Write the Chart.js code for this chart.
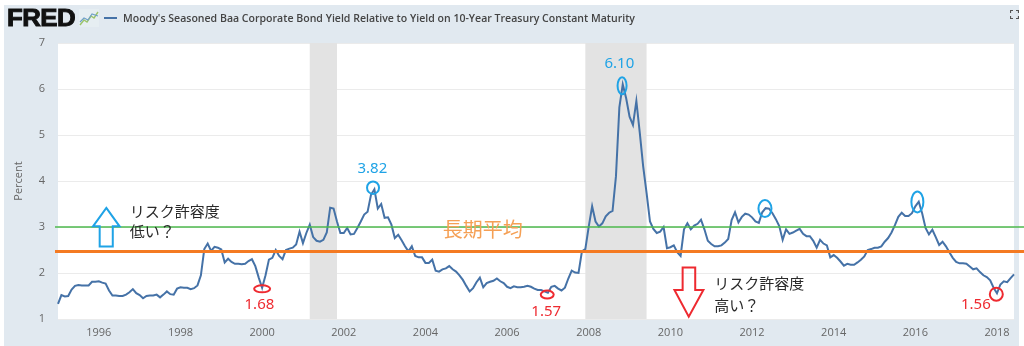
<!DOCTYPE html>
<html>
<head>
<meta charset="utf-8">
<script src="https://cdn.jsdelivr.net/npm/chart.js"></script>
<style>
  html, body { margin: 0; padding: 0; background: #ffffff; width: 1024px; height: 346px; overflow: hidden; }
  #frame { position: absolute; left: 4px; top: 5px; width: 1015px; height: 341px; background: #e1e9f0; }
  #cv { position: absolute; left: 0; top: 0; z-index: 1; }
  .hdr { position: absolute; z-index: 2; white-space: nowrap; }
  #logo { left: 7px; top: 5px; font-family: "Liberation Sans", Arial, sans-serif; font-weight: 700; font-size: 23px; color: #111; -webkit-text-stroke: 0.9px #111; letter-spacing: -0.5px; transform-origin: 0 0; line-height: 26px; }
  #title { left: 123px; top: 10px; font-family: "Open Sans", "Noto Sans", sans-serif; font-weight: 600; font-size: 11px; line-height: 15px; color: #444; transform-origin: 0 0; }
  #legline { left: 104px; top: 17px; width: 13px; height: 2px; background: #4572a7; }
</style>
</head>
<body>
<div id="frame"></div>
<canvas id="cv" width="1024" height="346"></canvas>
<div class="hdr" id="logo">FRED</div>
<svg class="hdr" style="left:79px;top:9px" width="20" height="18" viewBox="0 0 20 18">
  <rect x="0" y="0" width="20" height="18" fill="#e6eef2"/>
  <polyline points="1,16 5,11 8,13 12,7 15,9 19,3" fill="none" stroke="#9cc46a" stroke-width="1.4"/>
  <polyline points="1,13 5,9 9,11 13,5 19,7" fill="none" stroke="#6fa0c8" stroke-width="1.1"/>
</svg>
<div class="hdr" id="legline"></div>
<div class="hdr" id="title">Moody's Seasoned Baa Corporate Bond Yield Relative to Yield on 10-Year Treasury Constant Maturity</div>
<svg class="hdr" style="left:1010px;top:10px" width="9" height="9" viewBox="0 0 9 9">
  <path d="M0.5,3 V0.5 H3 M6,0.5 H8.5 V3 M8.5,6 V8.5 H6 M3,8.5 H0.5 V6" fill="none" stroke="#555" stroke-width="1.2"/>
</svg>
<script>
// ---- data (monthly, percent) ----
const values1995 = [1.33, 1.52, 1.49, 1.50, 1.64, 1.72, 1.74, 1.73, 1.73, 1.73, 1.81, 1.81];
const values1996 = [1.82, 1.79, 1.77, 1.62, 1.51, 1.51, 1.50, 1.50, 1.53, 1.58, 1.65, 1.56];
const values1997 = [1.52, 1.45, 1.50, 1.51, 1.51, 1.53, 1.47, 1.53, 1.60, 1.54, 1.53, 1.66];
const values1998 = [1.69, 1.68, 1.68, 1.65, 1.67, 1.73, 1.95, 2.52, 2.64, 2.48, 2.57, 2.55];
const values1999 = [2.51, 2.23, 2.31, 2.24, 2.20, 2.20, 2.19, 2.20, 2.26, 2.30, 2.15, 1.90];
const values2000 = [1.68, 1.95, 2.29, 2.33, 2.50, 2.37, 2.30, 2.50, 2.53, 2.55, 2.62, 2.90];
const values2001 = [2.65, 2.87, 3.05, 2.78, 2.70, 2.68, 2.72, 2.88, 3.42, 3.40, 3.12, 2.87];
const values2002 = [2.87, 2.98, 2.84, 2.85, 2.98, 3.12, 3.27, 3.33, 3.70, 3.82, 3.40, 3.50];
const values2003 = [3.20, 3.21, 3.05, 2.76, 2.83, 2.71, 2.58, 2.47, 2.58, 2.37, 2.34, 2.34];
const values2004 = [2.22, 2.22, 2.29, 2.05, 2.03, 2.08, 2.10, 2.15, 2.08, 2.03, 1.95, 1.85];
const values2005 = [1.72, 1.60, 1.67, 1.80, 1.90, 1.69, 1.78, 1.81, 1.83, 1.88, 1.82, 1.78];
const values2006 = [1.70, 1.67, 1.71, 1.69, 1.69, 1.70, 1.72, 1.70, 1.66, 1.63, 1.63, 1.60];
const values2007 = [1.57, 1.70, 1.72, 1.66, 1.62, 1.68, 1.88, 2.05, 2.01, 2.00, 2.47, 2.52];
const values2008 = [3.01, 3.45, 3.12, 3.01, 3.08, 3.23, 3.31, 3.35, 4.10, 5.60, 6.10, 5.80];
const values2009 = [5.40, 5.22, 5.74, 5.05, 4.32, 3.74, 3.12, 2.96, 2.87, 2.90, 3.00, 2.54];
const values2010 = [2.56, 2.60, 2.45, 2.37, 2.95, 3.08, 2.95, 3.03, 3.07, 3.16, 2.95, 2.70];
const values2011 = [2.63, 2.58, 2.58, 2.60, 2.66, 2.74, 3.15, 3.32, 3.10, 3.22, 3.29, 3.27];
const values2012 = [3.21, 3.12, 3.09, 3.32, 3.41, 3.40, 3.30, 3.17, 3.02, 2.72, 2.95, 2.85];
const values2013 = [2.88, 2.92, 2.96, 2.85, 2.80, 2.80, 2.70, 2.55, 2.72, 2.64, 2.60, 2.34];
const values2014 = [2.39, 2.33, 2.25, 2.16, 2.20, 2.18, 2.18, 2.23, 2.29, 2.36, 2.50, 2.52];
const values2015 = [2.55, 2.55, 2.58, 2.68, 2.76, 2.88, 3.04, 3.22, 3.31, 3.24, 3.24, 3.30];
const values2016 = [3.45, 3.55, 3.30, 2.98, 2.84, 2.94, 2.78, 2.61, 2.68, 2.58, 2.45, 2.33];
const values2017 = [2.24, 2.21, 2.21, 2.20, 2.14, 2.08, 2.10, 2.02, 1.95, 1.91, 1.84, 1.68];
const values2018 = [1.56, 1.75, 1.82, 1.80, 1.89, 1.97];

const yearSeries = [
  [1995, values1995], [1996, values1996], [1997, values1997], [1998, values1998],
  [1999, values1999], [2000, values2000], [2001, values2001], [2002, values2002],
  [2003, values2003], [2004, values2004], [2005, values2005], [2006, values2006],
  [2007, values2007], [2008, values2008], [2009, values2009], [2010, values2010],
  [2011, values2011], [2012, values2012], [2013, values2013], [2014, values2014],
  [2015, values2015], [2016, values2016], [2017, values2017], [2018, values2018]
];
const tickYears = ['1996', '1998', '2000', '2002', '2004', '2006', '2008', '2010', '2012', '2014', '2016', '2018'];
const yTicks = [1, 2, 3, 4, 5, 6, 7];
const recessions = [['2001-03', '2001-11'], ['2007-12', '2009-06']];
const refLines = { longTermAverage: 2.47, green: 3.0 };

const months = [];
const series = [];
yearSeries.forEach(([yr, vals]) => {
  vals.forEach((v, i) => {
    months.push(yr + '-' + String(i + 1).padStart(2, '0'));
    series.push(v);
  });
});

// ---- annotations in data space: [monthIndex, value] ----
const BLUE = '#1fa3e6', RED = '#ee2a30', ORANGE_TXT = '#f5a055';
const annot = {
  upArrow: { tip: [14.2, 3.415], wingY: 3.014, wingX: [10.3, 18.1], shaftX: [12.25, 16.1], bottom: 2.578 },
  downArrow: { top: 2.119, shaftX: [183.6, 187.3], wingY: 1.633, wingX: [181.2, 189.7], tip: [185.4, 1.05] },
  texts: [
    { t: 'リスク許容度', at: [21.06, 3.34], align: 'left', color: '#2a2a2a', font: '15px "Noto Sans CJK JP"' },
    { t: '低い？', at: [21.06, 2.905], align: 'left', color: '#2a2a2a', font: '15px "Noto Sans CJK JP"' },
    { t: 'リスク許容度', at: [192.9, 1.786], align: 'left', color: '#2a2a2a', font: '15px "Noto Sans CJK JP"' },
    { t: '高い？', at: [192.9, 1.305], align: 'left', color: '#2a2a2a', font: '15px "Noto Sans CJK JP"' },
    { t: '長期平均', at: [113.1, 2.942], align: 'left', color: ORANGE_TXT, font: '20px "Noto Sans CJK JP"' },
    { t: '1.68', at: [59.2, 1.305], align: 'center', color: RED, font: '15px "Noto Sans"' },
    { t: '1.57', at: [143.5, 1.16], align: 'center', color: RED, font: '15px "Noto Sans"' },
    { t: '1.56', at: [269.8, 1.305], align: 'center', color: RED, font: '15px "Noto Sans"' },
    { t: '3.82', at: [92.4, 4.266], align: 'center', color: BLUE, font: '15px "Noto Sans"' },
    { t: '6.10', at: [165.0, 6.542], align: 'center', color: BLUE, font: '15px "Noto Sans"' }
  ],
  ellipses: [
    { c: [60.0, 1.655], rx: 8, ry: 3.5, color: RED },
    { c: [143.8, 1.53], rx: 6.5, ry: 4, color: RED },
    { c: [275.8, 1.539], rx: 6.5, ry: 6.5, color: RED },
    { c: [92.6, 3.854], rx: 6, ry: 6.3, color: BLUE },
    { c: [165.8, 6.07], rx: 4.5, ry: 8.5, color: BLUE },
    { c: [207.8, 3.40], rx: 6.5, ry: 8.5, color: BLUE },
    { c: [252.6, 3.546], rx: 6, ry: 10.5, color: BLUE }
  ]
};

const decor = {
  id: 'decor',
  beforeDraw(chart) {
    const { ctx, chartArea: a } = chart;
    ctx.save();
    ctx.fillStyle = '#ffffff';
    ctx.fillRect(a.left, a.top, a.right - a.left, a.bottom - a.top);
    ctx.restore();
  },
  beforeDatasetsDraw(chart) {
    const { ctx, chartArea: a, scales: { x } } = chart;
    ctx.save();
    ctx.fillStyle = '#e3e3e3';
    recessions.forEach(([s, e]) => {
      const x0 = x.getPixelForValue(months.indexOf(s));
      const x1 = x.getPixelForValue(months.indexOf(e));
      ctx.fillRect(x0, a.top, x1 - x0, a.bottom - a.top);
    });
    ctx.restore();
  },
  afterDatasetsDraw(chart) {
    const { ctx, chartArea: a, scales: { x, y } } = chart;
    const X = i => x.getPixelForValue(i);
    const Y = v => y.getPixelForValue(v);
    ctx.save();
    // reference lines
    ctx.strokeStyle = '#4cb84c'; ctx.lineWidth = 1.5;
    ctx.beginPath();
    const gy = Y(refLines.green);
    ctx.moveTo(a.left - 3, gy); ctx.lineTo(chart.width, gy); ctx.stroke();
    ctx.strokeStyle = '#f47a22'; ctx.lineWidth = 3;
    ctx.beginPath();
    const oy = Y(refLines.longTermAverage);
    ctx.moveTo(a.left - 3, oy); ctx.lineTo(chart.width, oy); ctx.stroke();

    // arrows
    const u = annot.upArrow;
    ctx.strokeStyle = BLUE; ctx.lineWidth = 2; ctx.lineJoin = 'miter';
    ctx.beginPath();
    ctx.moveTo(X(u.tip[0]), Y(u.tip[1]));
    ctx.lineTo(X(u.wingX[1]), Y(u.wingY));
    ctx.lineTo(X(u.shaftX[1]), Y(u.wingY));
    ctx.lineTo(X(u.shaftX[1]), Y(u.bottom));
    ctx.lineTo(X(u.shaftX[0]), Y(u.bottom));
    ctx.lineTo(X(u.shaftX[0]), Y(u.wingY));
    ctx.lineTo(X(u.wingX[0]), Y(u.wingY));
    ctx.closePath();
    ctx.stroke();

    const d = annot.downArrow;
    ctx.strokeStyle = RED;
    ctx.beginPath();
    ctx.moveTo(X(d.shaftX[0]), Y(d.top));
    ctx.lineTo(X(d.shaftX[1]), Y(d.top));
    ctx.lineTo(X(d.shaftX[1]), Y(d.wingY));
    ctx.lineTo(X(d.wingX[1]), Y(d.wingY));
    ctx.lineTo(X(d.tip[0]), Y(d.tip[1]));
    ctx.lineTo(X(d.wingX[0]), Y(d.wingY));
    ctx.lineTo(X(d.shaftX[0]), Y(d.wingY));
    ctx.closePath();
    ctx.stroke();

    // ellipses
    annot.ellipses.forEach(e => {
      ctx.strokeStyle = e.color; ctx.lineWidth = 2;
      ctx.beginPath();
      ctx.ellipse(X(e.c[0]), Y(e.c[1]), e.rx, e.ry, 0, 0, Math.PI * 2);
      ctx.stroke();
    });

    // texts
    ctx.textBaseline = 'middle';
    annot.texts.forEach(t => {
      ctx.font = t.font; ctx.fillStyle = t.color; ctx.textAlign = t.align;
      ctx.fillText(t.t, X(t.at[0]), Y(t.at[1]));
    });
    ctx.restore();
  }
};

new Chart(document.getElementById('cv'), {
  type: 'line',
  data: {
    labels: months,
    datasets: [{
      label: "Moody's Seasoned Baa Corporate Bond Yield Relative to Yield on 10-Year Treasury Constant Maturity",
      data: series,
      borderColor: '#4572a7',
      borderWidth: 2,
      pointRadius: 0,
      tension: 0,
      fill: false
    }]
  },
  options: {
    responsive: false,
    animation: false,
    devicePixelRatio: 1,
    layout: { padding: { top: 43, right: 10, left: 0, bottom: 0 } },
    plugins: { legend: { display: false }, tooltip: { enabled: false } },
    scales: {
      x: {
        type: 'category',
        offset: false,
        grid: { display: false, drawTicks: false },
        border: { display: false },
        ticks: {
          autoSkip: false, maxRotation: 0, minRotation: 0, padding: 7,
          color: '#666', font: { family: 'Open Sans', size: 11 },
          callback: function (value) {
            const lab = this.getLabelForValue(value);
            const yr = lab.slice(0, 4);
            return (lab.endsWith('-01') && tickYears.includes(yr)) ? yr : null;
          }
        },
        afterFit: s => { s.height = 27; }
      },
      y: {
        min: yTicks[0], max: yTicks[yTicks.length - 1],
        grid: { color: '#ebebeb', drawTicks: false },
        border: { display: false },
        ticks: {
          stepSize: 1, padding: 13, color: '#666', font: { family: 'Open Sans', size: 11 },
          callback: v => (yTicks.includes(v) ? String(v) : null)
        },
        title: { display: true, text: 'Percent', color: '#666', font: { family: 'Open Sans', size: 11 }, padding: { top: 12, bottom: 0 } },
        afterFit: s => { s.width = 58; }
      }
    }
  },
  plugins: [decor]
});

// fit header text widths to reference
function fit(id, target) {
  const el = document.getElementById(id);
  const w = el.getBoundingClientRect().width;
  if (w > 0) el.style.transform = 'scaleX(' + (target / w) + ')';
}
fit('title', 512);
fit('logo', 68);
</script>
</body>
</html>
